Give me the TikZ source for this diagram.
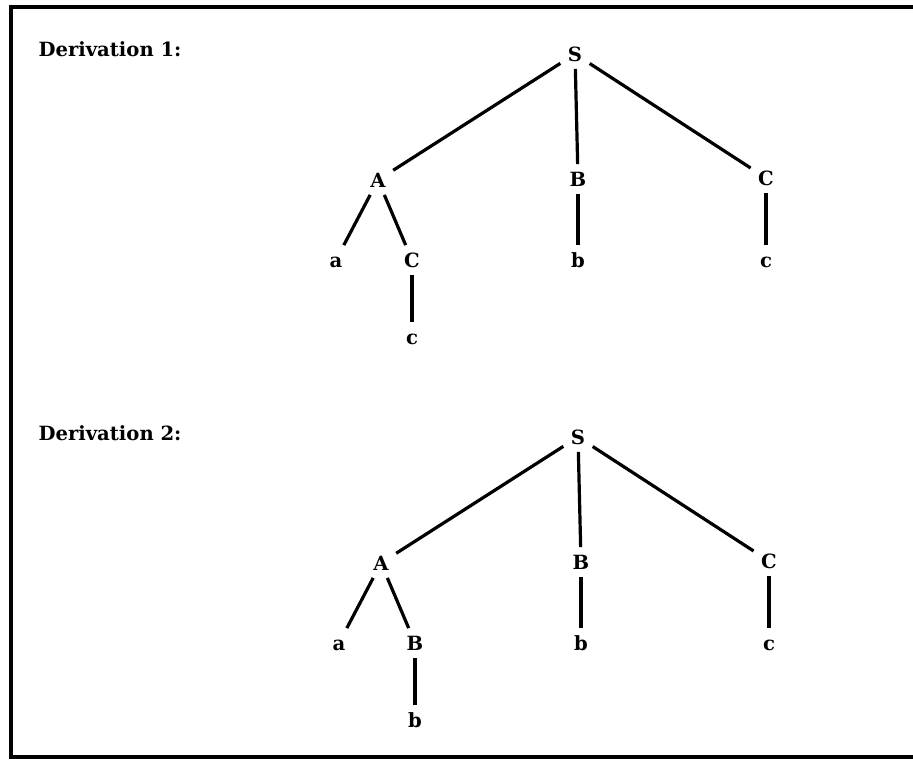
\documentclass[tikz,border=0pt]{standalone}
\usepackage{fontspec}
\setmainfont{DejaVu Serif}
\usepackage{tikz}
\usetikzlibrary{positioning}

\begin{document}
\begin{tikzpicture}[x=0.5pt, y=-0.5pt, line width=1.6pt,
    every node/.style={font=\bfseries\fontsize{9.8}{12}\selectfont, inner sep=3pt,
        text height=0.73em, text depth=0pt}]
    \useasboundingbox (0,0) rectangle (913,759);
    \draw (1000,7) -- (11,7) -- (11,757) -- (1000,757);

    \foreach \y/\dx/\n/\X/\x in {0/0/1/C/c, 383/3/2/B/b} {
        \node [anchor=base west] (lbl\n) at (31,\y+57) {Derivation \n:};
        \node (S\n) at (\dx+575,\y+54) {S};
        \node (A\n) at (\dx+378,\y+180) {A};
        \node (B\n) at (\dx+578,\y+179) {B};
        \node (C\n) at (\dx+766,\y+178) {C};
        \node (Aa\n) at (\dx+336,\y+260) {a};
        \node (AX\n) at (\dx+412,\y+260) {\X};
        \node (AXx\n) at (\dx+412,\y+337) {\x};
        \node (Bb\n) at (\dx+578,\y+260) {b};
        \node (Cc\n) at (\dx+766,\y+260) {c};

        \draw (S\n) -- (A\n);
        \draw (S\n) -- (B\n);
        \draw (S\n) -- (C\n);
        \draw (A\n) -- (Aa\n);
        \draw (A\n) -- (AX\n);
        \draw (AX\n) -- (AXx\n);
        \draw (B\n) -- (Bb\n);
        \draw (C\n) -- (Cc\n);
    }
\end{tikzpicture}
\end{document}
